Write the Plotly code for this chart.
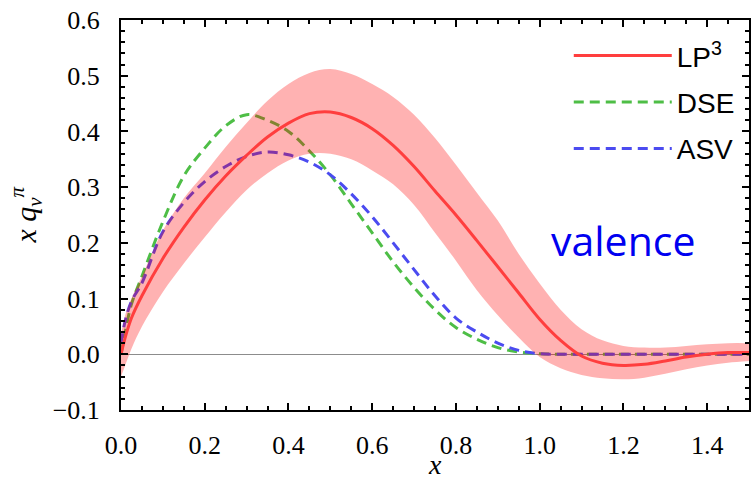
import plotly.graph_objects as go

# ---- data ----
x_vals = [0.0, 0.01, 0.025, 0.05, 0.1, 0.15, 0.2, 0.25, 0.3, 0.35, 0.4, 0.45, 0.5, 0.55, 0.6,
          0.65, 0.7, 0.75, 0.8, 0.85, 0.9, 0.95, 1.0, 1.05, 1.1, 1.15, 1.2, 1.25,
          1.3, 1.35, 1.4, 1.45, 1.5]

lp3_central = [0.0, 0.03, 0.065, 0.105, 0.172, 0.228, 0.277, 0.32, 0.357, 0.39, 0.415, 0.432,
               0.435, 0.425, 0.405, 0.375, 0.337, 0.293, 0.25, 0.204, 0.157, 0.11, 0.063,
               0.025, -0.003, -0.016, -0.02, -0.018, -0.012, -0.005, 0.0, 0.003, 0.003]

lp3_upper = [0.035, 0.07, 0.1, 0.14, 0.222, 0.28, 0.325, 0.372, 0.415, 0.455, 0.485, 0.505,
             0.512, 0.503, 0.485, 0.462, 0.43, 0.388, 0.34, 0.29, 0.24, 0.18, 0.127,
             0.08, 0.045, 0.025, 0.015, 0.012, 0.012, 0.015, 0.018, 0.02, 0.02]

lp3_lower = [-0.04, -0.02, 0.01, 0.05, 0.112, 0.163, 0.21, 0.255, 0.295, 0.325, 0.348, 0.36,
             0.36, 0.35, 0.33, 0.305, 0.268, 0.218, 0.168, 0.115, 0.07, 0.03, -0.005,
             -0.025, -0.037, -0.043, -0.045, -0.042, -0.035, -0.027, -0.02, -0.015, -0.012]

dse = [0.0, 0.04, 0.09, 0.14, 0.238, 0.32, 0.37, 0.41, 0.43, 0.42, 0.4, 0.365,
       0.322, 0.27, 0.218, 0.166, 0.12, 0.08, 0.048, 0.027, 0.012, 0.004, 0.001,
       0.0, 0.0, 0.0, 0.0, 0.0, 0.0, 0.0, 0.0, 0.0, 0.0]

asv = [0.02, 0.06, 0.095, 0.128, 0.22, 0.272, 0.31, 0.337, 0.355, 0.363, 0.358, 0.345,
       0.322, 0.288, 0.247, 0.2, 0.152, 0.105, 0.065, 0.04, 0.02, 0.007, 0.001,
       0.0, 0.0, 0.0, 0.0, 0.0, 0.0, 0.0, 0.0, 0.0, 0.0]

legend_labels = ["LP<sup>3</sup>", "DSE", "ASV"]

RED = "rgb(255,62,62)"
GREEN = "rgb(78,190,70)"
BLUE = "rgb(75,75,240)"
SERIF = "Liberation Serif"

fig = go.Figure()

fig.add_trace(go.Scatter(x=x_vals, y=dse, mode="lines", name=legend_labels[1],
                         line=dict(color=GREEN, width=3, dash="10px,6px", shape="spline"),
                         legendrank=2, legendgroup="b"))
fig.add_trace(go.Scatter(x=x_vals, y=asv, mode="lines", name=legend_labels[2],
                         line=dict(color=BLUE, width=3, dash="10px,6px", shape="spline"),
                         legendrank=3, legendgroup="c"))
fig.add_trace(go.Scatter(x=x_vals, y=lp3_lower, mode="lines", showlegend=False,
                         line=dict(width=0, shape="spline"), hoverinfo="skip"))
fig.add_trace(go.Scatter(x=x_vals, y=lp3_upper, mode="lines", showlegend=False,
                         line=dict(width=0, shape="spline"), fill="tonexty",
                         fillcolor="rgba(255,0,0,0.3)", hoverinfo="skip"))
fig.add_trace(go.Scatter(x=x_vals, y=lp3_central, mode="lines", name=legend_labels[0],
                         line=dict(color=RED, width=3, shape="spline"),
                         legendrank=1, legendgroup="a"))

fig.add_annotation(x=1.2, y=0.206, xref="x", yref="y", text="valence", showarrow=False,
                   font=dict(family="Open Sans", size=41, color="rgb(0,0,240)"))

# axis titles as annotations for exact placement
fig.add_annotation(x=0.5, y=-0.14, xref="paper", yref="paper", text="<i>x</i>",
                   showarrow=False, yanchor="middle",
                   font=dict(family=SERIF, size=28, color="black"))
fig.add_annotation(x=-0.152, y=0.5, xref="paper", yref="paper",
                   text="<i>x q</i><sub><i>v</i></sub><sup><i>\u03c0</i></sup>",
                   showarrow=False, textangle=-90, xanchor="center", yanchor="middle",
                   font=dict(family=SERIF, size=30, color="black"))

axis_common = dict(showline=True, linecolor="black", linewidth=2, mirror="ticks",
                   ticks="inside", ticklen=7, tickwidth=1.5, tickcolor="black",
                   showgrid=False, automargin=False,
                   tickfont=dict(family=SERIF, size=26, color="black"))

fig.update_xaxes(range=[0, 1.5], tickmode="linear", tick0=0, dtick=0.2, tickformat=".1f",
                 zeroline=False,
                 minor=dict(dtick=0.05, tick0=0, ticks="inside", ticklen=4, tickwidth=1.5,
                            tickcolor="black", showgrid=False),
                 ticklabelstandoff=11, **axis_common)
fig.update_yaxes(range=[-0.1, 0.6], tickmode="linear", tick0=0, dtick=0.1, tickformat=".1f",
                 zeroline=True, zerolinecolor="rgb(140,140,140)", zerolinewidth=1,
                 minor=dict(dtick=0.02, tick0=0, ticks="inside", ticklen=4, tickwidth=1.5,
                            tickcolor="black", showgrid=False),
                 ticklabelstandoff=14, **axis_common)

fig.update_layout(
    width=751, height=483,
    margin=dict(l=121, r=2, t=20, b=73),
    paper_bgcolor="white", plot_bgcolor="white",
    legend=dict(x=0.713, y=0.972, xanchor="left", yanchor="top",
                font=dict(family="Liberation Sans", size=28, color="black"),
                bgcolor="rgba(0,0,0,0)", itemwidth=98, traceorder="grouped",
                tracegroupgap=7),
)

fig.write_html("out.html", config={"displayModeBar": False},
               post_script="document.body.style.margin='0';document.body.style.overflow='hidden';")
